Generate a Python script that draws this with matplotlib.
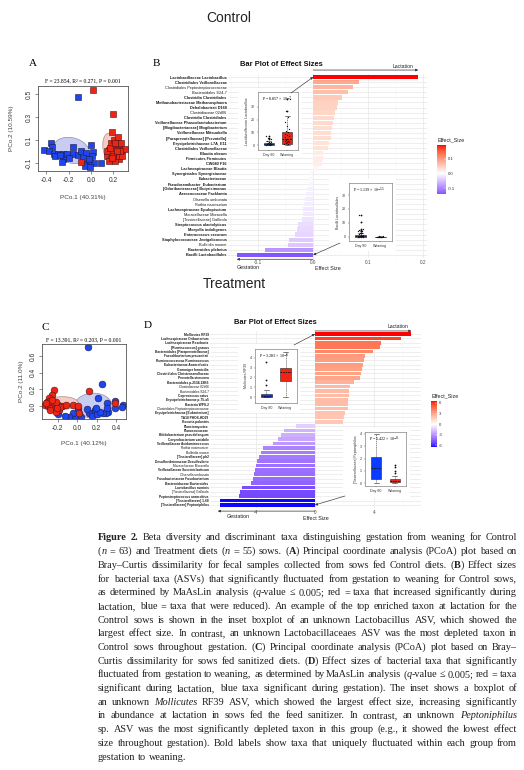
import re
import numpy as np
import matplotlib
matplotlib.use("Agg")
import matplotlib.pyplot as plt
from matplotlib.colors import LinearSegmentedColormap, Normalize, to_rgb
from matplotlib.patches import Ellipse

plt.rcParams['font.family'] = ['Liberation Sans', 'DejaVu Sans']
plt.rcParams['axes.unicode_minus'] = False

W, H = 524, 770

# --- A: PCoA, Control sows (blue = day 80, red = weaning)
a_blue_x = [-0.12, -0.36, -0.35, -0.42, -0.38, -0.33, -0.30, -0.25, -0.25, -0.26, -0.165, -0.165, -0.12, -0.087, -0.043,
            0.0, 0.014, 0.009, -0.043, -0.006, 0.029, 0.087, -0.052, -0.014, -0.22, -0.20, -0.32, -0.023, -0.072, -0.28]
a_blue_y = [0.47, 0.077, 0.04, 0.009, 0.0, -0.02, -0.02, -0.02, -0.066, -0.09, 0.043, -0.02, -0.03, 0.0, -0.014,
            0.057, -0.006, -0.043, -0.10, -0.10, -0.10, -0.10, -0.129, -0.134, -0.02, -0.057, -0.043, -0.066, -0.057, -0.035]
a_red_x = [0.014, 0.197, 0.183, -0.093, 0.232, 0.203, 0.246, 0.267, 0.174, 0.217, 0.275, 0.299, 0.159, 0.188, 0.232,
           0.261, 0.145, 0.174, 0.209, 0.246, 0.159, 0.217, 0.252, 0.203, 0.238, 0.145, 0.275, 0.197, 0.168, 0.255,
           0.212, 0.183, 0.232]
a_red_y = [0.534, 0.329, 0.166, -0.094, 0.086, 0.043, 0.043, 0.071, 0.071, 0.009, 0.014, 0.02, 0.009, -0.014, -0.029,
           -0.02, -0.043, -0.066, -0.057, -0.066, -0.086, -0.086, -0.043, 0.10, 0.129, 0.0, -0.043, -0.037, 0.029, 0.0,
           0.071, -0.057, 0.0]
# ellipses: centre x, centre y, width, height, angle
a_ell_blue = (-0.174, 0.009, 0.33, 0.22, -15)
a_ell_red = (0.177, 0.026, 0.27, 0.14, 100)

# --- C: PCoA, Treatment sows
c_blue_x = [0.107, 0.252, 0.21, 0.31, 0.39, 0.469, 0.459, 0.39, 0.32, 0.297, 0.269, 0.183, 0.166, 0.124, 0.148,
            0.207, 0.234, 0.303, 0.01, 0.017, 0.038, -0.024, -0.048, -0.083, -0.128, -0.197, 0.193, 0.103]
c_blue_y = [0.704, 0.26, 0.092, 0.04, 0.06, 0.012, -0.008, -0.02, -0.068, -0.088, -0.08, -0.048, -0.088, -0.088, -0.12,
            -0.096, -0.068, -0.028, -0.04, -0.096, -0.128, -0.12, -0.088, -0.128, -0.12, -0.096, -0.028, -0.04]
c_red_x = [-0.241, -0.255, -0.29, -0.307, -0.276, -0.328, -0.3, -0.255, -0.238, -0.197, -0.152, -0.283, -0.231, -0.186,
           -0.276, -0.214, -0.179, -0.041, 0.01, 0.017, 0.124, 0.39, -0.317, -0.221, -0.262, -0.205, -0.12]
c_red_y = [0.192, 0.132, 0.092, 0.052, 0.06, 0.012, 0.0, 0.032, 0.0, 0.012, 0.0, -0.028, -0.04, -0.048, -0.048,
           -0.068, -0.016, 0.012, 0.0, -0.08, 0.184, 0.032, 0.04, 0.052, 0.072, -0.02, 0.016]
c_ell_blue = (0.166, 0.004, 0.38, 0.30, 0)
c_ell_red = (-0.153, 0.036, 0.328, 0.152, 0)

# --- B: effect sizes, Control
b_taxa = ["Lactobacillaceae Lactobacillus", "Clostridiales Veillonellaceae", "Clostridiales Peptostreptococcaceae",
          "Bacteroidales S24-7", "Clostridia Clostridiales", "Methanobacteriaceae Methanosphaera",
          "Dehalobacterii D168", "Clostridiaceae 02d06", "Clostridia Clostridiales",
          "Veillonellaceae Phascolarctobacterium", "[Mogibacteriaceae] Mogibacterium", "Veillonellaceae Mitsuokella",
          "[Paraprevotellaceae] [Prevotella]", "Erysipelotrichaceae L7A_E11", "Clostridiales Veillonellaceae",
          "Blautia obeum", "Firmicutes Firmicutes", "CW040 F16", "Lachnospiraceae Blautia",
          "Synergistales Synergistaceae", "Eubacteriaceae", "Pseudoramibacter_Eubacterium",
          "[Odoribacteraceae] Butyricimonas", "Aerococcaceae Facklamia", "Olsenella umbonata", "Rothia nasimurium",
          "Lachnospiraceae Epulopiscium", "Moraxellaceae Moraxella", "[Tissierellaceae] Gallicola",
          "Streptococcus alactolyticus", "Moryella indoligenes", "Enterococcus cecorum",
          "Staphylococcaceae Jeotgalicoccus", "Bulleidia moorei", "Bacteroides plebeius", "Bacilli Lactobacillales"]
b_unique = [1, 1, 0, 0, 1, 1, 1, 0, 1, 1, 1, 1, 1, 1, 1, 1, 1, 1, 1, 1, 1, 1, 1, 1, 0, 0, 1, 0, 0, 1, 1, 1, 1, 0, 1, 1]
b_effect = [0.191, 0.084, 0.072, 0.064, 0.053, 0.046, 0.044, 0.039, 0.038, 0.036, 0.034, 0.033, 0.033, 0.028, 0.027,
            0.018, 0.017, 0.016, 0.009, -0.005, -0.007, -0.008, -0.012, -0.013, -0.015, -0.016, -0.018, -0.019,
            -0.021, -0.027, -0.030, -0.033, -0.044, -0.045, -0.087, -0.139]

# --- D: effect sizes, Treatment
d_taxa = ["Mollicutes RF39", "Lachnospiraceae Oribacterium", "Lachnospiraceae Roseburia", "[Ruminococcus] gnavus",
          "Bacteroidales [Paraprevotellaceae]", "Faecalibacterium prausnitzii", "Ruminococcaceae Ruminococcus",
          "Eubacteriaceae Anaerofustis", "Gemmiger formicilis", "Clostridiales Christensenellaceae",
          "Prevotella stercorea", "Bacteroidales p-2534-18B5", "Clostridiaceae 02d06", "Bacteroidales S24-7",
          "Coprococcus catus", "Erysipelotrichaceae p-75-a5", "Bacteria WPS-2", "Clostridiales Peptostreptococcaceae",
          "Erysipelotrichaceae [Eubacterium]", "TA18 PHOS-HD29", "Kocuria palustris", "Planctomycetes",
          "Planococcaceae", "Bifidobacterium pseudolongum", "Corynebacterium variabile",
          "Veillonellaceae Acidaminococcus", "Rothia nasimurium", "Bulleidia moorei", "[Tissierellaceae] ph2",
          "Desulfovibrionaceae Desulfovibrio", "Moraxellaceae Moraxella", "Veillonellaceae Succiniclasticum",
          "Olsenella umbonata", "Fusobacteriaceae Fusobacterium", "Bacteroidaceae Bacteroides", "Lactobacillus ruminis",
          "[Tissierellaceae] Gallicola", "Peptostreptococcus anaerobius", "[Tissierellaceae] 1-68",
          "[Tissierellaceae] Peptoniphilus"]
d_unique = [1, 1, 1, 1, 1, 1, 1, 1, 1, 1, 1, 1, 0, 0, 1, 1, 1, 0, 1, 1, 1, 1, 1, 1, 1, 1, 0, 0, 1, 1, 0, 1, 0, 1, 1, 1,
            0, 1, 1, 1]
d_effect = [6.55, 5.83, 4.47, 4.41, 3.95, 3.39, 3.32, 3.28, 3.19, 3.10, 3.05, 2.64, 2.37, 2.33, 2.28, 2.26, 2.26, 2.24,
            2.03, 1.97, 1.92, -1.29, -2.10, -2.28, -2.49, -2.87, -3.50, -3.68, -3.77, -3.91, -4.00, -4.07, -4.11,
            -4.18, -4.36, -4.97, -5.08, -5.15, -6.45, -6.48]

# --- inset boxplots (Day 80 vs Weaning)
groups = ["Day 80", "Weaning"]
b1_stats = [dict(med=0.8, q1=0.2, q3=1.8, whislo=0.0, whishi=3.5, fliers=[4.5, 5.5, 6.8]),
            dict(med=4.5, q1=1.0, q3=10.0, whislo=0.0, whishi=23.0, fliers=[27.0, 36.0])]
b1_points = [[0.1, 0.3, 0.5, 0.7, 0.9, 1.1, 1.3, 1.6, 2.0, 2.5, 3.0, 4.5, 5.5, 6.8],
             [0.5, 1.0, 1.5, 2.0, 2.5, 3.0, 3.5, 4.0, 4.5, 5.0, 6.0, 7.0, 8.0, 9.0, 10.0, 11.0, 13.0, 15.0, 18.0, 22.0,
              27.0, 36.0]]
b2_stats = [dict(med=0.6, q1=0.1, q3=1.3, whislo=0.0, whishi=2.5, fliers=[3.0, 4.0, 4.6, 5.2, 5.6, 10.5, 16.0]),
            dict(med=0.1, q1=0.0, q3=0.3, whislo=0.0, whishi=0.6, fliers=[])]
b2_points = [[0.0, 0.1, 0.2, 0.3, 0.5, 0.6, 0.8, 1.0, 1.2, 1.5, 2.0, 2.5, 3.0, 4.0, 4.6, 5.2, 5.6, 10.5, 16.0],
             [0.0, 0.05, 0.1, 0.1, 0.15, 0.2, 0.3, 0.4, 0.5]]
d1_stats = [dict(med=0.12, q1=0.0, q3=0.35, whislo=0.0, whishi=0.7, fliers=[1.2, 1.75, 3.6]),
            dict(med=2.6, q1=1.65, q3=3.0, whislo=0.0, whishi=4.6, fliers=[])]
d2_stats = [dict(med=1.25, q1=0.35, q3=2.1, whislo=0.0, whishi=4.0, fliers=[]),
            dict(med=0.15, q1=0.05, q3=0.3, whislo=0.0, whishi=0.6, fliers=[0.8, 1.0, 1.3, 1.5])]

caption = [
    "**Figure 2.** Beta diversity and discriminant taxa distinguishing gestation from weaning for Control",
    "(*n* = 63) and Treatment diets (*n* = 55) sows. (**A**) Principal coordinate analysis (PCoA) plot based on",
    "Bray–Curtis dissimilarity for fecal samples collected from sows fed Control diets. (**B**) Effect sizes",
    "for bacterial taxa (ASVs) that significantly fluctuated from gestation to weaning for Control sows,",
    "as determined by MaAsLin analysis (*q*-value ≤ 0.005; red = taxa that increased significantly during",
    "lactation, blue = taxa that were reduced). An example of the top enriched taxon at lactation for the",
    "Control sows is shown in the inset boxplot of an unknown Lactobacillus ASV, which showed the",
    "largest effect size. In contrast, an unknown Lactobacillaceaes ASV was the most depleted taxon in",
    "Control sows throughout gestation. (**C**) Principal coordinate analysis (PCoA) plot based on Bray–",
    "Curtis dissimilarity for sows fed sanitized diets. (**D**) Effect sizes of bacterial taxa that significantly",
    "fluctuated from gestation to weaning, as determined by MaAsLin analysis (*q*-value ≤ 0.005; red = taxa",
    "significant during lactation, blue taxa significant during gestation). The inset shows a boxplot of",
    "an unknown *Mollicutes* RF39 ASV, which showed the largest effect size, increasing significantly",
    "in abundance at lactation in sows fed the feed sanitizer. In contrast, an unknown *Peptoniphilus*",
    "sp. ASV was the most significantly depleted taxon in this group (e.g., it showed the lowest effect",
    "size throughout gestation). Bold labels show taxa that uniquely fluctuated within each group from",
    "gestation to weaning.",
]

BLUE, RED = '#1f45f0', '#f02414'
INK = '#231f20'
SERIF = 'Liberation Serif'


def px_rect(x0, y0, x1, y1):
    return [x0 / W, 1 - y1 / H, (x1 - x0) / W, (y1 - y0) / H]


def fpt(x, y):
    return (x / W, 1 - y / H)


def ftext(x, y, s, **kw):
    kw.setdefault('ha', 'center')
    kw.setdefault('va', 'center')
    return fig.text(x / W, 1 - y / H, s, **kw)


# ggplot-like gradient2 (blue - white - red), interpolated in Lab
_M = np.array([[0.4124, 0.3576, 0.1805], [0.2126, 0.7152, 0.0722], [0.0193, 0.1192, 0.9505]])
_WP = np.array([0.95047, 1.0, 1.08883])


def to_lab(c):
    rgb = np.array(to_rgb(c))
    lin = np.where(rgb <= 0.04045, rgb / 12.92, ((rgb + 0.055) / 1.055) ** 2.4)
    xyz = _M @ lin / _WP
    f = np.where(xyz > 0.008856, np.cbrt(xyz), 7.787 * xyz + 16 / 116)
    return np.array([116 * f[1] - 16, 500 * (f[0] - f[1]), 200 * (f[1] - f[2])])


def from_lab(lab):
    fy = (lab[0] + 16) / 116
    f = np.array([fy + lab[1] / 500, fy, fy - lab[2] / 200])
    xyz = np.where(f ** 3 > 0.008856, f ** 3, (f - 16 / 116) / 7.787) * _WP
    lin = np.clip(np.linalg.solve(_M, xyz), 0, 1)
    return np.clip(np.where(lin <= 0.0031308, 12.92 * lin, 1.055 * lin ** (1 / 2.4) - 0.055), 0, 1)


def gradient2(low, mid, high, n=48):
    lo, mi, hi = to_lab(low), to_lab(mid), to_lab(high)
    t = np.linspace(0, 1, n)
    cols = [from_lab(lo + (mi - lo) * s) for s in t] + [from_lab(mi + (hi - mi) * s) for s in t[1:]]
    return LinearSegmentedColormap.from_list('gradient2', cols)


cmap = gradient2('blue', 'white', 'red')

fig = plt.figure(figsize=(W / 100, H / 100), dpi=100)


def draw_pcoa(rect, xlim, ylim, xticks, yticks, bx, by, rx, ry, ell_b, ell_r, marker, size):
    ax = fig.add_axes(px_rect(*rect))
    for (cx, cy, w, h, ang), fc, ec in ((ell_b, '#c9ccf1', '#8d8fa8'), (ell_r, '#f6cbc3', '#a8908c')):
        ax.add_patch(Ellipse((cx, cy), w, h, angle=ang, facecolor=fc, edgecolor=ec, lw=0.5, zorder=1))
    ax.scatter(bx, by, s=size, marker=marker, c=BLUE, edgecolors='#1a1a40', linewidths=0.4, zorder=2)
    ax.scatter(rx, ry, s=size, marker=marker, c=RED, edgecolors='#401a1a', linewidths=0.4, zorder=3)
    ax.set_xlim(xlim)
    ax.set_ylim(ylim)
    ax.set_xticks(xticks)
    ax.set_xticklabels([f'{t:.1f}' for t in xticks])
    ax.set_yticks(yticks)
    ax.set_yticklabels([f'{t:.1f}' for t in yticks], rotation=90, va='center')
    ax.tick_params(labelsize=4.8, length=2, width=0.4, pad=2, colors='#333333')
    for s in ax.spines.values():
        s.set_linewidth(0.6)
        s.set_color('#555555')
    return ax


def draw_bars(rect, names, unique, vals, xlim, major, minor, ticklabels, labsize):
    vals = np.asarray(vals)
    ax = fig.add_axes(px_rect(*rect))
    ax.set_zorder(1)
    y = np.arange(len(vals))
    lim = np.abs(vals).max()
    norm = Normalize(-lim, lim)
    ax.barh(y, vals, height=0.84, color=cmap(norm(vals)), zorder=2)
    ax.set_ylim(len(vals) - 0.4, -0.6)
    ax.set_xlim(xlim)
    ax.set_yticks(y)
    ax.set_yticklabels(names, fontsize=labsize, color='#1a1a1a')
    for lab, u in zip(ax.get_yticklabels(), unique):
        lab.set_fontweight('bold' if u else 'normal')
    ax.set_xticks(major)
    ax.set_xticklabels(ticklabels)
    ax.set_xticks(minor, minor=True)
    ax.grid(which='major', color='#e8e8e8', lw=0.5)
    ax.grid(which='minor', axis='x', color='#f3f3f3', lw=0.35)
    ax.set_axisbelow(True)
    for s in ax.spines.values():
        s.set_visible(False)
    ax.tick_params(which='both', length=0, pad=1)
    ax.tick_params(axis='x', labelsize=3.4, labelcolor='#4d4d4d', pad=1.5)
    return ax, norm


def draw_cbar(rect, norm, vals, ticks, labels):
    vmin, vmax = min(vals), max(vals)
    cax = fig.add_axes(px_rect(*rect))
    cax.imshow(np.linspace(vmax, vmin, 256)[:, None], aspect='auto', cmap=cmap, norm=norm,
               extent=[0, 1, vmin, vmax])
    cax.set_xticks([])
    cax.yaxis.tick_right()
    cax.set_yticks(ticks)
    cax.set_yticklabels(labels)
    cax.tick_params(axis='y', length=1.5, width=0.3, color='white', direction='in', labelsize=3.1,
                    pad=1.5, labelcolor='#333333')
    for s in cax.spines.values():
        s.set_visible(False)
    cax.set_title('Effect_Size', fontsize=3.9, loc='left', pad=2.5, color='#222222')


def draw_inset(rect, bg, stats, colors, ylim, yticks, ylabel, ptext, target, target_ax, start, points=None):
    back = fig.add_axes(px_rect(*bg))
    back.set_zorder(2)
    back.set_xticks([])
    back.set_yticks([])
    for s in back.spines.values():
        s.set_visible(False)
    ax = fig.add_axes(px_rect(*rect))
    ax.set_zorder(3)
    st = [dict(d, label=g) for d, g in zip(stats, groups)]
    art = ax.bxp(st, positions=[1, 2], widths=0.55, patch_artist=True,
                 boxprops=dict(lw=0.4, edgecolor='#222222'),
                 whiskerprops=dict(lw=0.4, ls=(0, (2, 1.5)), color='#222222'),
                 capprops=dict(lw=0.4, color='#222222'),
                 medianprops=dict(lw=0.6, color='#111111', ls=(0, (2, 1))),
                 flierprops=dict(marker='o', markersize=1.3, markerfacecolor='#111111', markeredgecolor='none'))
    for p, c in zip(art['boxes'], colors):
        p.set_facecolor(c)
    if points:
        for pos, v in zip([1, 2], points):
            off = ((np.arange(len(v)) * 0.618) % 1 - 0.5) * 0.3
            ax.scatter(pos + off, v, s=0.9, c='#111111', lw=0, zorder=4)
    ax.set_xlim(0.4, 2.6)
    ax.set_ylim(ylim)
    ax.set_yticks(yticks)
    ax.tick_params(labelsize=2.6, length=1, width=0.3, pad=1, colors='#333333')
    ax.set_ylabel(ylabel, fontsize=2.5, labelpad=1.5, color='#333333')
    for s in ax.spines.values():
        s.set_linewidth(0.4)
        s.set_color('#666666')
    ax.text(0.1, 0.95, ptext, transform=ax.transAxes, ha='left', va='top', fontsize=3.0, family=SERIF)
    ax.annotate('', xy=target, xycoords=target_ax.transData, xytext=fpt(*start), textcoords='figure fraction',
                arrowprops=dict(arrowstyle='-|>', lw=0.45, color='#333333', mutation_scale=3.5,
                                shrinkA=0, shrinkB=0), annotation_clip=False)
    return ax


def direction_arrow(ax, x_end, row):
    ax.annotate('', xy=(x_end, row), xytext=(0, row), xycoords='data',
                arrowprops=dict(arrowstyle='-|>', lw=0.5, color='#333333', mutation_scale=3.5,
                                shrinkA=0, shrinkB=0), annotation_clip=False)


# headings
ftext(229, 17.5, 'Control', fontsize=10, color='#222222')
ftext(234, 284, 'Treatment', fontsize=10, color='#222222')

# ---------------- A
draw_pcoa((38, 86, 128, 171), (-0.475, 0.33), (-0.17, 0.57), [-0.4, -0.2, 0.0, 0.2], [-0.1, 0.1, 0.3, 0.5],
          a_blue_x, a_blue_y, a_red_x, a_red_y, a_ell_blue, a_ell_red, 's', 22)
ftext(83, 81, 'F = 23.854, R² = 0.271, P = 0.001', fontsize=4.1, family=SERIF)
ftext(83, 198, 'PCo.1 (40.31%)', fontsize=4.6, color='#444444')
ftext(12, 128, 'PCo.2 (10.59%)', fontsize=4.6, color='#444444', rotation=90)
ftext(33, 63, 'A', fontsize=8, family=SERIF)

# ---------------- C
draw_pcoa((42, 344, 126, 419), (-0.362, 0.5), (-0.156, 0.744), [-0.2, 0.0, 0.2, 0.4], [0.0, 0.2, 0.4, 0.6],
          c_blue_x, c_blue_y, c_red_x, c_red_y, c_ell_blue, c_ell_red, 'o', 24)
ftext(84, 340, 'F = 13.391, R² = 0.203, P = 0.001', fontsize=4.1, family=SERIF)
ftext(84, 443, 'PCo.1 (40.12%)', fontsize=4.6, color='#444444')
ftext(21, 381, 'PCo.2 (11.0%)', fontsize=4.6, color='#444444', rotation=90)
ftext(45, 328, 'C', fontsize=8, family=SERIF)

# ---------------- B
axB, normB = draw_bars((228, 74, 427, 258), b_taxa, b_unique, b_effect, (-0.155, 0.207),
                       [-0.1, 0.0, 0.1, 0.2], [-0.15, -0.05, 0.05, 0.15], ['-0.1', '0.0', '0.1', '0.2'], 2.8)
direction_arrow(axB, 0.191, -1.38)
direction_arrow(axB, -0.139, 35.85)
ftext(281, 64, 'Bar Plot of Effect Sizes', fontsize=5.4, fontweight='bold', color='#111111')
ftext(403, 66, 'Lactation', fontsize=3.7, color='#222222')
ftext(248, 267, 'Gestation', fontsize=3.9, color='#222222')
ftext(328, 269, 'Effect Size', fontsize=3.9, color='#222222')
ftext(156, 64, 'B', fontsize=8, family=SERIF)
draw_cbar((437, 145, 446, 194), normB, b_effect, [-0.1, 0.0, 0.1], ['-0.1', '0.0', '0.1'])
draw_inset((258, 92, 298, 150), (238, 88, 302, 158), b1_stats, ['#2a4fd0', RED], (-3.9, 41.7), [0, 10, 20, 30],
           'Lactobacillaceae Lactobacillus', 'P = 8.857 × 10$^{-7}$', (0, 0), axB, (291, 93), b1_points)
draw_inset((349, 183, 392, 241), (329, 179, 396, 251), b2_stats, ['#2a4fd0', RED], (-2.9, 38.6), [0, 10, 20, 30],
           'Bacilli Lactobacillales', 'P = 1.139 × 10$^{-11}$', (0, 35), axB, (340, 243), b2_points)

# ---------------- D
axD, normD = draw_bars((210, 331.4, 421, 507.6), d_taxa, d_unique, d_effect, (-7.13, 7.2),
                       [-4, 0, 4], [-6, -2, 2, 6], ['-4', '0', '4'], 2.35)
direction_arrow(axD, 6.55, -0.7)
direction_arrow(axD, -6.6, 40.4)
ftext(275, 322, 'Bar Plot of Effect Sizes', fontsize=5.4, fontweight='bold', color='#111111')
ftext(398, 326, 'Lactation', fontsize=3.7, color='#222222')
ftext(238, 516, 'Gestation', fontsize=3.9, color='#222222')
ftext(316, 519, 'Effect Size', fontsize=3.9, color='#222222')
ftext(148, 326, 'D', fontsize=8, family=SERIF)
draw_cbar((431, 401, 437, 447), normD, d_effect, [-6, -3, 0, 3, 6], ['-6', '-3', '0', '3', '6'])
draw_inset((255, 349, 297, 403), (238, 344, 300, 413), d1_stats, ['#0a3cff', RED], (-0.6, 4.9), [0, 1, 2, 3, 4],
           'Mollicutes RF39', 'P = 3.283 × 10$^{-6}$', (0, 0), axD, (294, 345))
draw_inset((365, 432, 406, 486), (343, 428, 410, 498), d2_stats, ['#0a3cff', RED], (-0.24, 4.16), [0, 1, 2, 3, 4],
           '[Tissierellaceae] Peptoniphilus', 'P = 5.422 × 10$^{-8}$', (0, 39), axD, (345, 496))


# ---------------- caption, justified like the journal page
def parse_words(line):
    bold = ital = False
    words = [[]]
    for tok in re.split(r'(\*\*|\*)', line):
        if tok == '**':
            bold = not bold
            continue
        if tok == '*':
            ital = not ital
            continue
        for j, part in enumerate(tok.split(' ')):
            if j > 0:
                words.append([])
            if part:
                words[-1].append((part, bold, ital))
    return [w for w in words if w]


def seg_style(bold, ital):
    return dict(family=SERIF, fontsize=7.4, color=INK,
                fontweight='bold' if bold else 'normal', fontstyle='italic' if ital else 'normal')


renderer = fig.canvas.get_renderer()


def text_width(s, bold=False, ital=False):
    t = fig.text(0, 0, s, **seg_style(bold, ital))
    w = t.get_window_extent(renderer).width
    t.remove()
    return w


space = text_width('a a') - text_width('aa')
x_left, x_right, base0, step = 98, 517, 540.5, 13.69
for i, line in enumerate(caption):
    words = parse_words(line)
    widths = [[text_width(s, b, it) for s, b, it in w] for w in words]
    total = sum(sum(w) for w in widths)
    last = i == len(caption) - 1
    gap = space if last else max((x_right - x_left - total) / (len(words) - 1), space * 0.6)
    x = x_left
    y = base0 + i * step
    for w, ws in zip(words, widths):
        for (s, b, it), sw in zip(w, ws):
            fig.text(x / W, 1 - y / H, s, ha='left', va='baseline', **seg_style(b, it))
            x += sw
        x += gap

fig.savefig('out.png', dpi=100)
